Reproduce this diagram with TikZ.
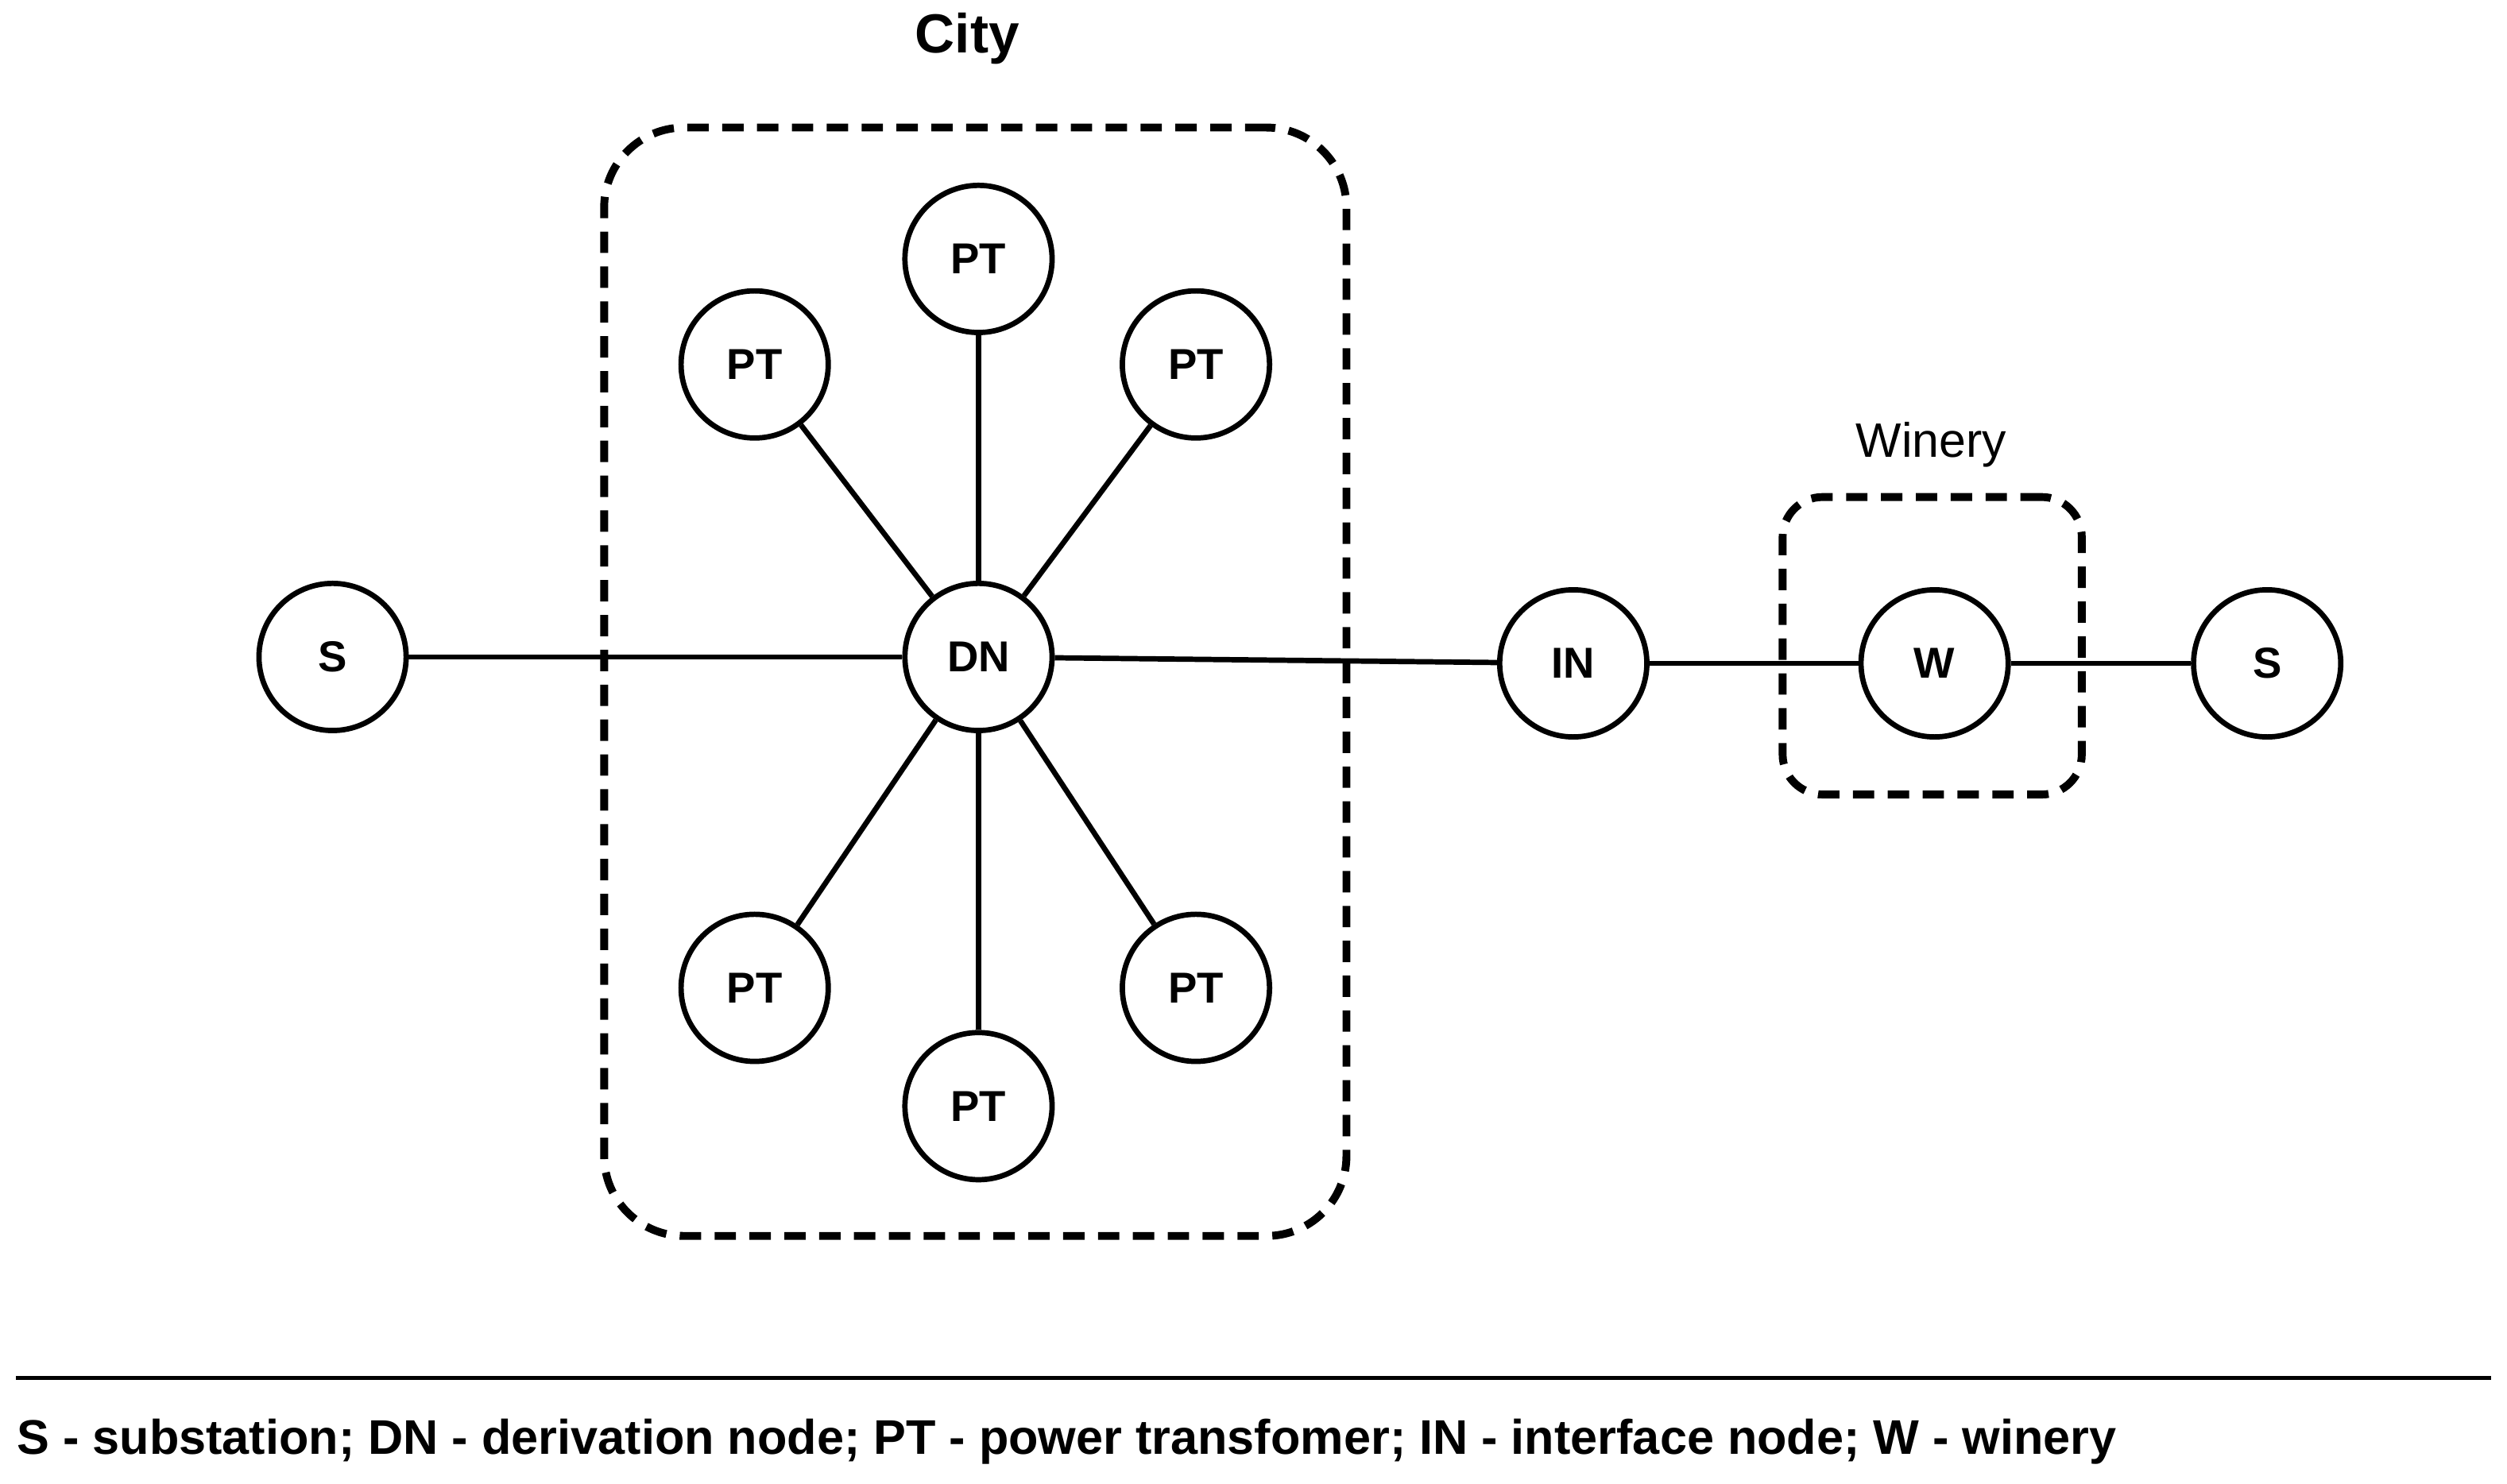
\documentclass[tikz,border=0pt]{standalone}
\usepackage{fontspec}
\setmainfont{Liberation Sans}
\begin{document}
\begin{tikzpicture}[x=0.01cm,y=-0.01cm,
  nd/.style={circle,draw,line width=0.95pt,minimum size=0.92cm,inner sep=0pt,font=\fontsize{7.7pt}{9pt}\selectfont\bfseries},
  ln/.style={line width=0.95pt},
  grp/.style={draw,line width=1.4pt,dash pattern=on 3.8pt off 2.4pt,rounded corners=0.5cm}]
\useasboundingbox (0,0) rectangle (1568,928);
\node[grp,minimum width=4.64cm,minimum height=6.93cm] (city) at (610,426.5) {};
\node[grp,minimum width=1.87cm,minimum height=1.86cm,rounded corners=0.25cm] (win) at (1208.5,404) {};
\node[font=\fontsize{9.8pt}{11pt}\selectfont\bfseries] (citylab) at (605,24) {City};
\node[font=\fontsize{8.6pt}{10pt}\selectfont] (winlab) at (1208,278) {Winery};
\node[nd] (s1) at (208,411) {S};
\node[nd] (dn) at (612,411) {DN};
\node[nd] (in) at (984,415) {IN};
\node[nd] (w) at (1210,415) {W};
\node[nd] (s2) at (1418,415) {S};
\node[nd] (p1) at (612,162) {PT};
\node[nd] (p2) at (472,228) {PT};
\node[nd] (p3) at (748,228) {PT};
\node[nd] (p4) at (472,618) {PT};
\node[nd] (p5) at (748,618) {PT};
\node[nd] (p6) at (612,692) {PT};
\foreach \p in {p1,p2,p3,p4,p5,p6} \draw[ln] (dn) -- (\p);
\draw[ln] (s1) -- (dn);
\draw[ln] (dn) -- (in);
\draw[ln] (in) -- (w);
\draw[ln] (w) -- (s2);
\coordinate (la) at (10,862);
\coordinate (lb) at (1558,862);
\draw[line width=0.7pt] (la) -- (lb);
\node[anchor=west,font=\fontsize{8.65pt}{10pt}\selectfont\bfseries,inner sep=0pt] (leg) at (10,902) {S - substation; DN - derivation node; PT - power transfomer; IN - interface node; W - winery};
\end{tikzpicture}
\end{document}
